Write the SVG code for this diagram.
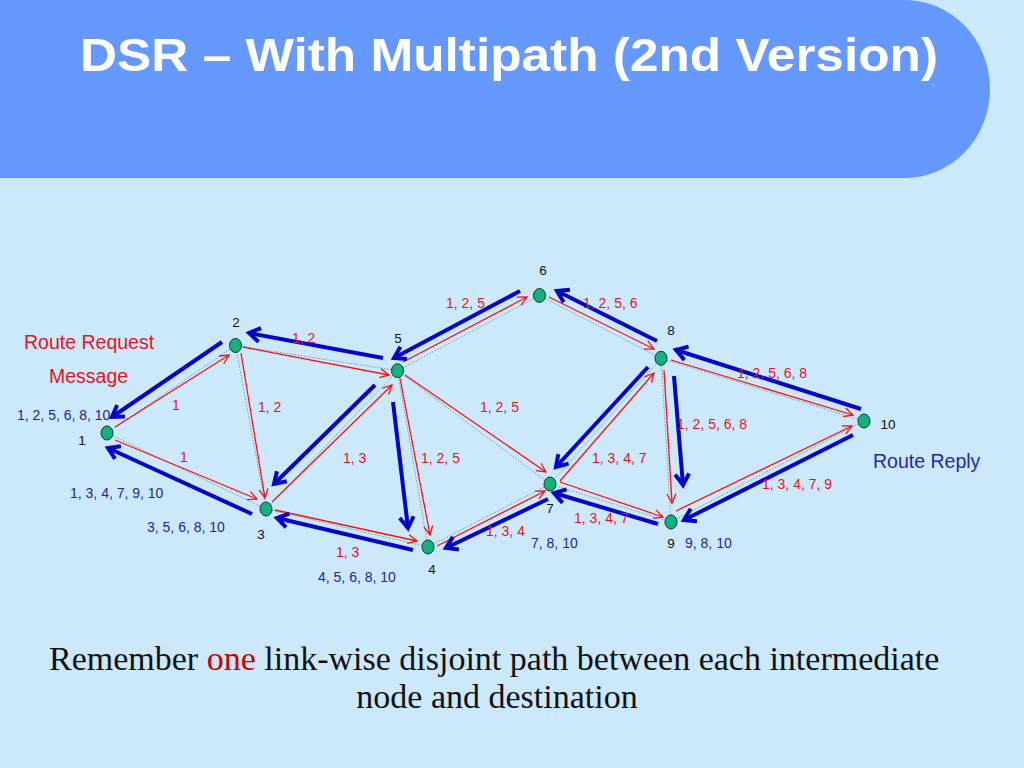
<svg xmlns="http://www.w3.org/2000/svg" width="1024" height="768" viewBox="0 0 1024 768">
<defs>
<style>
.lnk{stroke:#7f98b4;stroke-width:1;stroke-dasharray:1.5 1.5;fill:none}
.req{stroke:#ff1010;stroke-width:1.3;fill:none;marker-end:url(#ra)}
.rep{stroke:#0505c8;stroke-width:4;fill:none;marker-end:url(#ba)}
.nd{fill:#14b07e;stroke:#0b3f2b;stroke-width:1}
.num{font-family:"Liberation Sans",Arial,sans-serif;font-size:13.5px;fill:#111;text-anchor:middle}
.rl{font-family:"Liberation Sans",Arial,sans-serif;font-size:14px;fill:#e8141c}
.bl{font-family:"Liberation Sans",Arial,sans-serif;font-size:14px;fill:#1e22a8}
</style>
<marker id="ra" markerUnits="userSpaceOnUse" markerWidth="14" markerHeight="14" refX="10" refY="5" orient="auto" overflow="visible">
<path d="M1,0.5 L10,5 L1,9.5" fill="none" stroke="#ff1010" stroke-width="1.3"/>
</marker>
<marker id="ba" markerUnits="userSpaceOnUse" markerWidth="20" markerHeight="20" refX="12" refY="7.5" orient="auto" overflow="visible">
<path d="M1,0.5 L12,7.5 L1,14.5" fill="none" stroke="#0505c8" stroke-width="4"/>
</marker>
</defs>
<rect width="1024" height="768" fill="#cce8fb"/>
<g id="header">
<path d="M0,0 H905 A85,89 0 0 1 905,178 H0 Z" fill="#6699ff"/>
<text x="80" y="71" font-family="Liberation Sans,Arial,sans-serif" font-weight="bold" font-size="47" fill="#ffffff" textLength="858" lengthAdjust="spacingAndGlyphs">DSR – With Multipath (2nd Version)</text>
</g>
<g id="links">
<line class="lnk" x1="107" y1="433" x2="235.5" y2="345.5"/>
<line class="lnk" x1="107" y1="433" x2="266" y2="509"/>
<line class="lnk" x1="235.5" y1="345.5" x2="266" y2="509"/>
<line class="lnk" x1="235.5" y1="345.5" x2="397.5" y2="370.7"/>
<line class="lnk" x1="266" y1="509" x2="397.5" y2="370.7"/>
<line class="lnk" x1="266" y1="509" x2="428" y2="547"/>
<line class="lnk" x1="397.5" y1="370.7" x2="428" y2="547"/>
<line class="lnk" x1="397.5" y1="370.7" x2="539.5" y2="295.5"/>
<line class="lnk" x1="397.5" y1="370.7" x2="550" y2="484"/>
<line class="lnk" x1="428" y1="547" x2="550" y2="484"/>
<line class="lnk" x1="539.5" y1="295.5" x2="661" y2="358.3"/>
<line class="lnk" x1="550" y1="484" x2="661" y2="358.3"/>
<line class="lnk" x1="550" y1="484" x2="671" y2="522"/>
<line class="lnk" x1="661" y1="358.3" x2="671" y2="522"/>
<line class="lnk" x1="661" y1="358.3" x2="864" y2="421"/>
<line class="lnk" x1="671" y1="522" x2="864" y2="421"/>
</g>
<g id="connectors">
<line class="req" x1="115" y1="427" x2="229" y2="355"/>
<line class="req" x1="115" y1="440" x2="257" y2="499"/>
<line class="req" x1="241" y1="353" x2="265" y2="498"/>
<line class="req" x1="243" y1="347" x2="389" y2="375"/>
<line class="req" x1="272" y1="502" x2="392" y2="385"/>
<line class="req" x1="275" y1="510" x2="417" y2="541"/>
<line class="req" x1="400" y1="378" x2="430" y2="535"/>
<line class="req" x1="403" y1="362" x2="527" y2="297"/>
<line class="req" x1="405" y1="375" x2="546" y2="472"/>
<line class="req" x1="437" y1="546" x2="545" y2="491"/>
<line class="req" x1="549" y1="297" x2="654" y2="349"/>
<line class="req" x1="560" y1="481" x2="654" y2="373"/>
<line class="req" x1="560" y1="482" x2="663" y2="517"/>
<line class="req" x1="664" y1="370" x2="672" y2="503"/>
<line class="req" x1="671" y1="360" x2="853" y2="415"/>
<line class="req" x1="676" y1="511" x2="852" y2="426"/>

<line class="rep" x1="222" y1="342" x2="112" y2="417"/>
<line class="rep" x1="252" y1="514" x2="108" y2="448"/>
<line class="rep" x1="383" y1="358" x2="249" y2="333"/>
<line class="rep" x1="375" y1="385" x2="274" y2="484"/>
<line class="rep" x1="393" y1="402" x2="408" y2="528"/>
<line class="rep" x1="413" y1="550" x2="277" y2="518"/>
<line class="rep" x1="520" y1="291" x2="394" y2="358"/>
<line class="rep" x1="657" y1="341" x2="557" y2="291"/>
<line class="rep" x1="548" y1="499" x2="446" y2="548"/>
<line class="rep" x1="648" y1="367" x2="556" y2="467"/>
<line class="rep" x1="674" y1="376" x2="683" y2="485"/>
<line class="rep" x1="658" y1="524" x2="554" y2="493"/>
<line class="rep" x1="861" y1="409" x2="676" y2="350"/>
<line class="rep" x1="853" y1="435" x2="684" y2="520"/>
</g>
<g id="n1"><ellipse class="nd" cx="107" cy="433" rx="6" ry="7"/><text class="num" x="82" y="445">1</text></g>
<g id="n2"><ellipse class="nd" cx="235.5" cy="345.5" rx="6" ry="7"/><text class="num" x="236" y="327">2</text></g>
<g id="n3"><ellipse class="nd" cx="266" cy="509" rx="6" ry="7"/><text class="num" x="261" y="539">3</text></g>
<g id="n4"><ellipse class="nd" cx="428" cy="547" rx="6" ry="7"/><text class="num" x="432" y="574">4</text></g>
<g id="n5"><ellipse class="nd" cx="397.5" cy="370.7" rx="6" ry="7"/><text class="num" x="398" y="343">5</text></g>
<g id="n6"><ellipse class="nd" cx="539.5" cy="295.5" rx="6" ry="7"/><text class="num" x="543" y="275">6</text></g>
<g id="n7"><ellipse class="nd" cx="550" cy="484" rx="6" ry="7"/><text class="num" x="550" y="513">7</text></g>
<g id="n8"><ellipse class="nd" cx="661" cy="358.3" rx="6" ry="7"/><text class="num" x="671" y="335">8</text></g>
<g id="n9"><ellipse class="nd" cx="671" cy="522" rx="6" ry="7"/><text class="num" x="671" y="548">9</text></g>
<g id="n10"><ellipse class="nd" cx="864" cy="421" rx="6" ry="7"/><text class="num" x="888" y="429">10</text></g>
<g id="labels">
<text class="rl" x="172" y="410">1</text>
<text class="rl" x="180" y="462">1</text>
<text class="rl" x="292" y="343">1, 2</text>
<text class="rl" x="258" y="412">1, 2</text>
<text class="rl" x="343" y="463">1, 3</text>
<text class="rl" x="421" y="463">1, 2, 5</text>
<text class="rl" x="336" y="557">1, 3</text>
<text class="rl" x="446" y="308">1, 2, 5</text>
<text class="rl" x="583" y="308">1, 2, 5, 6</text>
<text class="rl" x="480" y="412">1, 2, 5</text>
<text class="rl" x="592" y="463">1, 3, 4, 7</text>
<text class="rl" x="574" y="523">1, 3, 4, 7</text>
<text class="rl" x="486" y="536">1, 3, 4</text>
<text class="rl" x="737" y="378">1, 2, 5, 6, 8</text>
<text class="rl" x="677" y="429">1, 2, 5, 6, 8</text>
<text class="rl" x="762" y="489">1, 3, 4, 7, 9</text>
<text class="bl" x="17" y="420">1, 2, 5, 6, 8, 10</text>
<text class="bl" x="70" y="498">1, 3, 4, 7, 9, 10</text>
<text class="bl" x="147" y="532">3, 5, 6, 8, 10</text>
<text class="bl" x="318" y="582">4, 5, 6, 8, 10</text>
<text class="bl" x="531" y="548">7, 8, 10</text>
<text class="bl" x="685" y="548">9, 8, 10</text>
<text x="24" y="349" font-family="Liberation Sans,Arial,sans-serif" font-size="19.5" fill="#e8141c">Route Request</text>
<text x="49" y="383" font-family="Liberation Sans,Arial,sans-serif" font-size="19.5" fill="#e8141c">Message</text>
<text x="873" y="468" font-family="Liberation Sans,Arial,sans-serif" font-size="19.5" fill="#1e28b0">Route Reply</text>
</g>
<g id="caption" font-family="Liberation Serif,'Times New Roman',serif" font-size="34" fill="#111111">
<text x="49" y="670">Remember <tspan fill="#cc0000">one</tspan> link-wise disjoint path between each intermediate</text>
<text x="497" y="708" text-anchor="middle">node and destination</text>
</g>
</svg>
